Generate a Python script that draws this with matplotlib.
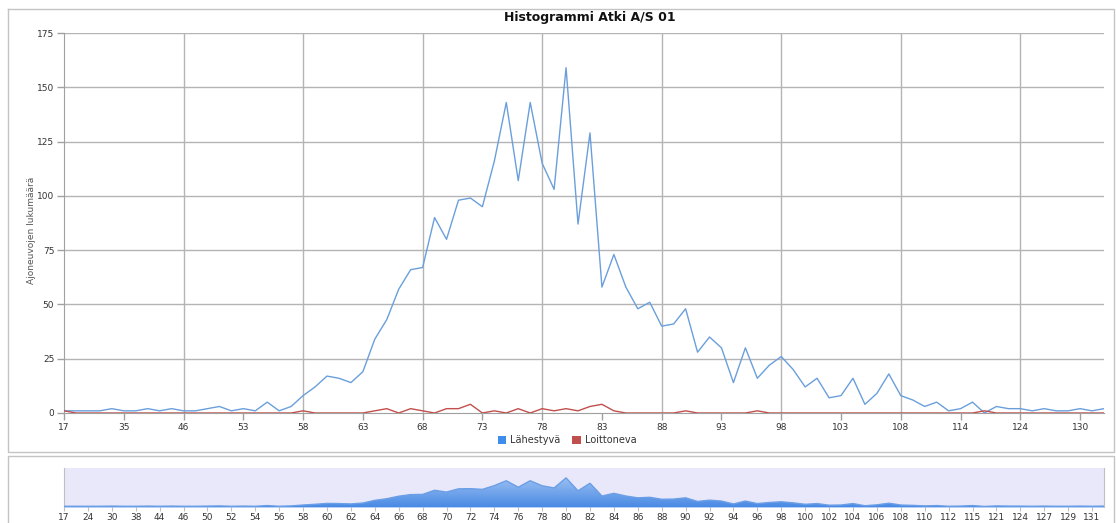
import numpy as np
import matplotlib.pyplot as plt
from matplotlib.patches import Patch
from matplotlib.lines import Line2D
from matplotlib.colors import LinearSegmentedColormap

# Speed classes (categories on the x axis)
categories = [17, 20, 24, 27, 30, 35, 38, 41, 44, 45,
              46, 48, 50, 51, 52, 53, 54, 55, 56, 57,
              58, 59, 60, 61, 62, 63, 64, 65, 66, 67,
              68, 69, 70, 71, 72, 73, 74, 75, 76, 77,
              78, 79, 80, 81, 82, 83, 84, 85, 86, 87,
              88, 89, 90, 91, 92, 93, 94, 95, 96, 97,
              98, 99, 100, 101, 102, 103, 104, 105, 106, 107,
              108, 109, 110, 111, 112, 114, 115, 118, 121, 122,
              124, 125, 127, 128, 129, 130, 131, 134]

# Lähestyvä (approaching)
approaching = [1, 1, 1, 1, 2, 1, 1, 2, 1, 2,
               1, 1, 2, 3, 1, 2, 1, 5, 1, 3,
               8, 12, 17, 16, 14, 19, 34, 43, 57, 66,
               67, 90, 80, 98, 99, 95, 116, 143, 107, 143,
               115, 103, 159, 87, 129, 58, 73, 58, 48, 51,
               40, 41, 48, 28, 35, 30, 14, 30, 16, 22,
               26, 20, 12, 16, 7, 8, 16, 4, 9, 18,
               8, 6, 3, 5, 1, 2, 5, 0, 3, 2,
               2, 1, 2, 1, 1, 2, 1, 2]

# Loittoneva (receding)
receding = [1, 0, 0, 0, 0, 0, 0, 0, 0, 0,
            0, 0, 0, 0, 0, 0, 0, 0, 0, 0,
            1, 0, 0, 0, 0, 0, 1, 2, 0, 2,
            1, 0, 2, 2, 4, 0, 1, 0, 2, 0,
            2, 1, 2, 1, 3, 4, 1, 0, 0, 0,
            0, 0, 1, 0, 0, 0, 0, 0, 1, 0,
            0, 0, 0, 0, 0, 0, 0, 0, 0, 0,
            0, 0, 0, 0, 0, 0, 0, 1, 0, 0,
            0, 0, 0, 0, 0, 0, 0, 0]

yticks = [0, 25, 50, 75, 100, 125, 150, 175]

BLUE = '#6a9fdc'
RED = '#c0504d'
GRID = '#b4b4b4'
TXT = '#333333'

W, H = 1116, 523
fig = plt.figure(figsize=(W / 100, H / 100), dpi=100)
plt.rcParams['font.family'] = ['DejaVu Sans']

x = np.arange(len(categories))

# outer frames
fig.add_artist(Line2D([7.5 / W, 1113.5 / W, 1113.5 / W, 7.5 / W, 7.5 / W],
                      [1 - 8.5 / H, 1 - 8.5 / H, 1 - 452 / H, 1 - 452 / H, 1 - 8.5 / H],
                      color='#c4c4c4', lw=1))
fig.add_artist(Line2D([7.5 / W, 7.5 / W, 1113.5 / W, 1113.5 / W],
                      [0, 1 - 455.5 / H, 1 - 455.5 / H, 0],
                      color='#c4c4c4', lw=1))

# main chart
ax = fig.add_axes([64 / W, 110 / H, 1040 / W, 380 / H])
ax.set_xlim(0, len(categories) - 1)
ax.set_ylim(0, 175)
for yv in yticks[1:]:
    ax.axhline(yv, color=GRID, lw=1, zorder=1)
for i in range(10, len(categories), 10):
    ax.axvline(i, color=GRID, lw=1, zorder=1)

ax.plot(x, approaching, color=BLUE, lw=1, zorder=3)
ax.plot(x, receding, color=RED, lw=1, zorder=3)

for s in ['top', 'right']:
    ax.spines[s].set_visible(False)
for s in ['left', 'bottom']:
    ax.spines[s].set_color('#a0a0a0')
ax.set_yticks(yticks)
xt = list(range(0, len(categories), 5))
ax.set_xticks(xt)
ax.set_xticklabels([str(categories[i]) for i in xt])
ax.tick_params(axis='both', labelsize=6.5, colors='#a0a0a0', labelcolor=TXT, length=5, width=1)
ax.tick_params(axis='x', pad=2)
ax.tick_params(axis='y', pad=2)

fig.text(590 / W, 1 - 18 / H, 'Histogrammi Atki A/S 01', ha='center', va='center',
         fontsize=9, fontweight='bold', color='#111111')
fig.text(32 / W, 1 - 230 / H, 'Ajoneuvojen lukumäärä', rotation=90, ha='center', va='center',
         fontsize=6.5, color='#555555')

handles = [Patch(facecolor='#3d8eea', edgecolor='none', label='Lähestyvä'),
           Patch(facecolor=RED, edgecolor='none', label='Loittoneva')]
fig.legend(handles=handles, loc='center', bbox_to_anchor=(567 / W, 1 - 440 / H), ncol=2,
           frameon=False, fontsize=7, handlelength=0.9, handleheight=0.9,
           handletextpad=0.4, columnspacing=1.2, labelcolor=TXT)

# navigator
nav = fig.add_axes([64 / W, 16 / H, 1040 / W, 39 / H])
nav.set_facecolor('#e8e8fa')
poly = nav.fill_between(x, -3, approaching, color='#6ea4ec', lw=0, zorder=2)
grad = np.linspace(0, 1, 100).reshape(-1, 1)
cmap = LinearSegmentedColormap.from_list('g', ['#4a8ae4', '#9cc0f2'])
im = nav.imshow(grad, cmap=cmap, origin='lower', aspect='auto',
                extent=[0, len(categories) - 1, -3, 160], zorder=3)
im.set_clip_path(poly.get_paths()[0], transform=nav.transData)
nav.plot(x, approaching, color='#6a9ee6', lw=1, zorder=4)
nav.set_xlim(0, len(categories) - 1)
nav.set_ylim(-3, 214)
for s in ['top', 'bottom']:
    nav.spines[s].set_visible(False)
for s in ['left', 'right']:
    nav.spines[s].set_color('#c0c0c0')
nav.set_yticks([])
nt = list(range(0, len(categories), 2))
nav.set_xticks(nt)
nav.set_xticklabels([str(categories[i]) for i in nt])
nav.tick_params(axis='x', labelsize=6.5, colors='#c0c0c0', labelcolor=TXT, length=3, pad=1)

fig.savefig('out.png', dpi=100)
